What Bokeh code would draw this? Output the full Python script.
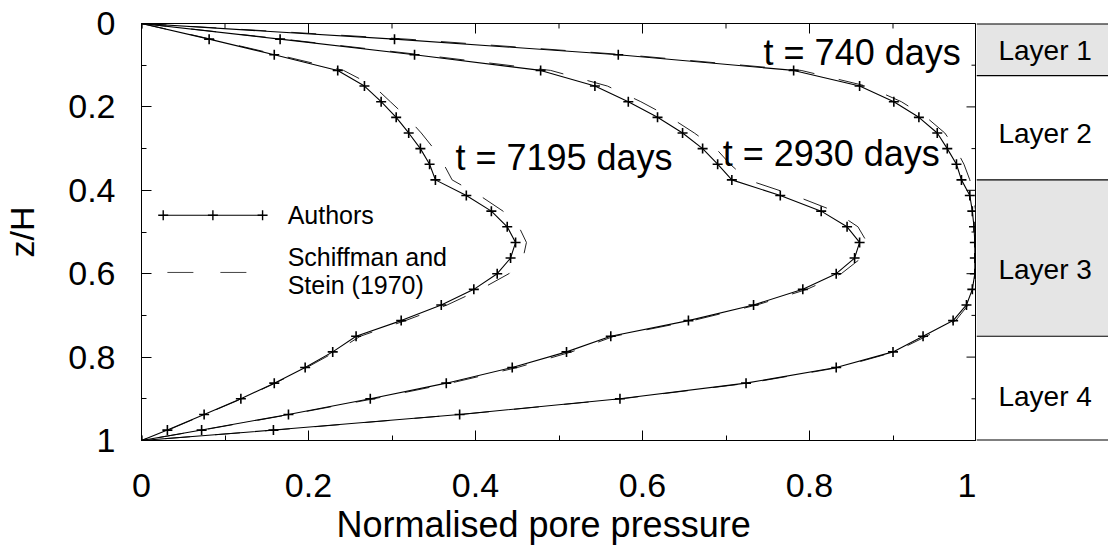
import math
from bokeh.plotting import figure
from bokeh.models import Range1d, FixedTicker, Label, Title
from bokeh.layouts import row
from bokeh.embed import file_html
from bokeh.resources import INLINE

# ---------------- data ----------------
z = [0.0, 0.0375, 0.075, 0.1125, 0.15, 0.1875, 0.225, 0.2625, 0.3, 0.3375,
     0.375, 0.4125, 0.45, 0.4875, 0.525, 0.5625, 0.6, 0.6375, 0.675, 0.7125,
     0.75, 0.7875, 0.825, 0.8625, 0.9, 0.9375, 0.975, 1.0]

authors_740 = [0.0, 0.303, 0.571, 0.781, 0.860, 0.901, 0.931, 0.953, 0.965, 0.976,
               0.982, 0.992, 0.995, 0.997, 0.998, 0.998, 0.998, 0.995, 0.988, 0.972,
               0.936, 0.900, 0.832, 0.724, 0.573, 0.381, 0.158, 0.0]
authors_2930 = [0.0, 0.166, 0.327, 0.478, 0.543, 0.583, 0.618, 0.648, 0.672, 0.690,
                0.707, 0.765, 0.814, 0.845, 0.860, 0.854, 0.832, 0.792, 0.733, 0.655,
                0.562, 0.509, 0.444, 0.365, 0.274, 0.176, 0.072, 0.0]
authors_7195 = [0.0, 0.081, 0.159, 0.235, 0.267, 0.287, 0.305, 0.320, 0.334, 0.345,
                0.352, 0.389, 0.419, 0.438, 0.448, 0.442, 0.426, 0.398, 0.359, 0.311,
                0.257, 0.229, 0.196, 0.159, 0.119, 0.075, 0.031, 0.0]

schiffman_740 = [0.0, 0.318, 0.580, 0.790, 0.868, 0.910, 0.940, 0.962, 0.975, 0.985,
                 0.992, 0.996, 0.999, 1.0, 1.0, 1.0, 1.0, 0.997, 0.990, 0.975,
                 0.940, 0.902, 0.835, 0.727, 0.575, 0.383, 0.160, 0.0]
schiffman_2930 = [0.0, 0.170, 0.335, 0.490, 0.558, 0.598, 0.633, 0.662, 0.688, 0.705,
                  0.726, 0.782, 0.830, 0.858, 0.869, 0.862, 0.838, 0.797, 0.737, 0.660,
                  0.566, 0.515, 0.450, 0.370, 0.278, 0.178, 0.073, 0.0]
schiffman_7195 = [0.0, 0.083, 0.163, 0.242, 0.278, 0.298, 0.318, 0.335, 0.350, 0.362,
                  0.372, 0.405, 0.433, 0.452, 0.461, 0.457, 0.440, 0.406, 0.366, 0.316,
                  0.262, 0.232, 0.198, 0.160, 0.120, 0.076, 0.032, 0.0]

curve_labels = ["t = 740 days", "t = 2930 days", "t = 7195 days"]
curve_label_x = [0.745, 0.696, 0.376]
curve_label_z = [0.0695, 0.311, 0.3225]

layer_names = ["Layer 1", "Layer 2", "Layer 3", "Layer 4"]
layer_top = [0.0, 0.125, 0.375, 0.75]
layer_bottom = [0.125, 0.375, 0.75, 1.0]
layer_colors = ["#e5e5e5", "#ffffff", "#e5e5e5", "#ffffff"]
layer_label_z = [0.0647, 0.264, 0.590, 0.894]

legend_labels = ["Authors", "Schiffman and", "Stein (1970)"]
legend_label_z = [0.460, 0.560, 0.627]

tick_vals = [0.0, 0.2, 0.4, 0.6, 0.8, 1.0]
tick_labels = ["0", "0.2", "0.4", "0.6", "0.8", "1"]
minor_vals = [0.1, 0.3, 0.5, 0.7, 0.9]

FONT = "Liberation Sans"
TICK_SIZE = "34px"

# ---------------- main figure ----------------
p = figure(width=976, height=555, x_range=Range1d(0, 1), y_range=Range1d(1, 0),
           output_backend="svg", toolbar_location=None,
           min_border_left=141, min_border_right=0, min_border_top=23,
           min_border_bottom=115, background_fill_color="white",
           border_fill_color="white")
p.outline_line_color = "black"
p.outline_line_width = 1
p.xgrid.visible = False
p.ygrid.visible = False

for ax in (p.xaxis[0], p.yaxis[0]):
    ax.ticker = FixedTicker(ticks=tick_vals, minor_ticks=minor_vals)
    ax.major_tick_in = 10
    ax.major_tick_out = 0
    ax.minor_tick_in = 5
    ax.minor_tick_out = 0
    ax.axis_line_color = "black"
    ax.axis_line_width = 1
    ax.major_tick_line_color = "black"
    ax.minor_tick_line_color = "black"
    ax.major_label_overrides = {v: s for v, s in zip(tick_vals, tick_labels)}
    ax.major_label_text_font = FONT
    ax.major_label_text_font_size = TICK_SIZE
    ax.major_label_text_color = "black"

p.xaxis[0].major_label_standoff = 33
p.yaxis[0].major_label_standoff = 26
p.yaxis[0].axis_label = "z/H"
p.yaxis[0].axis_label_text_font = FONT
p.yaxis[0].axis_label_text_font_size = "34px"
p.yaxis[0].axis_label_text_font_style = "normal"
p.yaxis[0].axis_label_text_color = "black"
p.yaxis[0].axis_label_standoff = 24

# x-axis title as a title below the axis, left-aligned with an offset
p.add_layout(Title(text="Normalised pore pressure", align="left", offset=195,
                   text_font=FONT, text_font_size="36px", text_font_style="normal",
                   text_color="black", standoff=5), "below")

# inward ticks on the top edge and on the right edge (x = 1); the frame clips
# the outer half of each dash so only the inward part shows
p.scatter(tick_vals, [0.0] * len(tick_vals), marker="dash", angle=math.pi / 2,
          size=20, line_color="black", line_width=1)
p.scatter(minor_vals, [0.0] * len(minor_vals), marker="dash", angle=math.pi / 2,
          size=10, line_color="black", line_width=1)
p.scatter([1.0] * len(tick_vals), tick_vals, marker="dash", size=20,
          line_color="black", line_width=1)
p.scatter([1.0] * len(minor_vals), minor_vals, marker="dash", size=10,
          line_color="black", line_width=1)

# curves
for a, s in [(authors_740, schiffman_740), (authors_2930, schiffman_2930),
             (authors_7195, schiffman_7195)]:
    p.line(s, z, line_color="#222222", line_width=1, line_dash="25 25")
    p.line(a, z, line_color="black", line_width=1.1)
    p.scatter(a, z, marker="cross", size=10, line_color="black", line_width=1.6)

for txt, x, y in zip(curve_labels, curve_label_x, curve_label_z):
    p.add_layout(Label(x=x, y=y, text=txt, text_font=FONT, text_font_size="36px",
                       text_align="left", text_baseline="middle",
                       text_color="black"))

# legend (drawn by hand)
LEG_X0, LEG_X1 = 0.026, 0.145
LEG_Z_AUTH, LEG_Z_SCH = 0.46, 0.597
p.line([LEG_X0, LEG_X1], [LEG_Z_AUTH, LEG_Z_AUTH], line_color="black", line_width=1.1)
p.scatter([LEG_X0, (LEG_X0 + LEG_X1) / 2, LEG_X1], [LEG_Z_AUTH] * 3, marker="cross",
          size=10, line_color="black", line_width=1.4)
p.line([0.031, 0.127], [LEG_Z_SCH, LEG_Z_SCH], line_color="#444444", line_width=1,
       line_dash="26 27")
for txt, y in zip(legend_labels, legend_label_z):
    p.add_layout(Label(x=0.175, y=y, text=txt, text_font=FONT, text_font_size="25px",
                       text_align="left", text_baseline="middle",
                       text_color="black"))

# ---------------- layer column ----------------
p2 = figure(width=132, height=555, x_range=Range1d(0, 1), y_range=Range1d(1, 0),
            output_backend="svg", toolbar_location=None,
            min_border_left=0, min_border_right=0, min_border_top=23,
            min_border_bottom=115, x_axis_location=None, y_axis_location=None,
            background_fill_color="white", border_fill_color="white")
p2.outline_line_color = None
p2.grid.visible = False
p2.quad(left=0, right=1, top=layer_top, bottom=layer_bottom,
        fill_color=layer_colors, line_color=None)
inner = layer_bottom[:-1]
p2.segment(x0=[0] * len(inner), x1=[1] * len(inner), y0=inner, y1=inner,
           line_color="black", line_width=1.2)
edges = [layer_top[0], layer_bottom[-1]]
p2.segment(x0=[0, 0], x1=[1, 1], y0=edges, y1=edges, line_color="black",
           line_width=2)
for name, y in zip(layer_names, layer_label_z):
    p2.add_layout(Label(x=0.52, y=y, text=name, text_font=FONT, text_font_size="28px",
                        text_align="center", text_baseline="middle",
                        text_color="black"))

layout = row(p, p2)
open("out.html", "w").write(file_html(layout, INLINE))
